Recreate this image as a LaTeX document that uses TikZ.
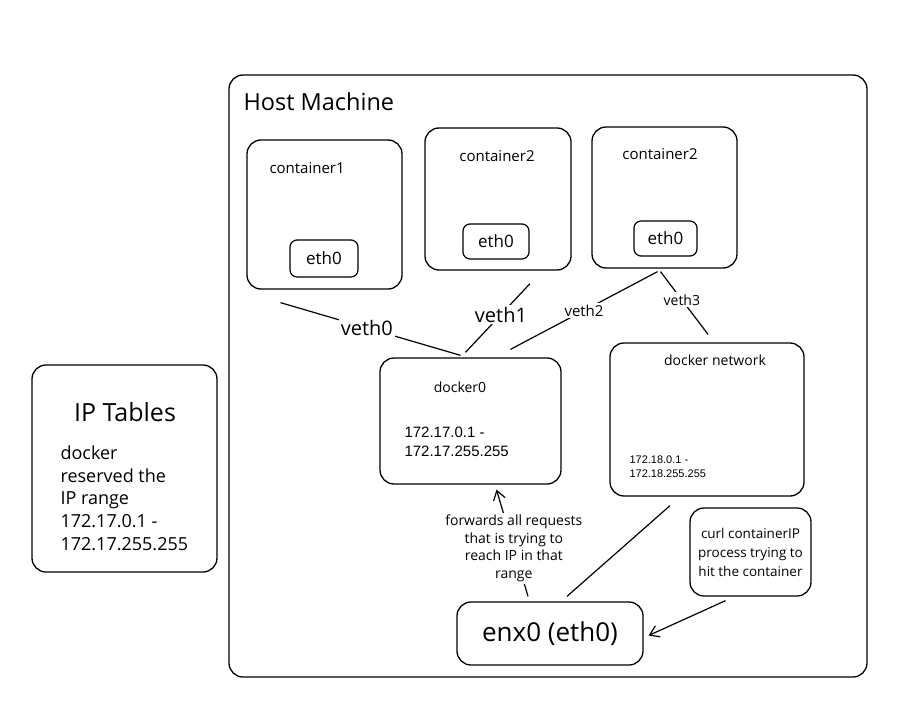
\documentclass[tikz,border=0pt]{standalone}
\usepackage{fontspec}
\setmainfont{Open Sans}
\newfontfamily\ipfont{Liberation Sans}
\usetikzlibrary{arrows.meta,calc}

\tikzset{
  box/.style={draw, line width=1.3pt, rounded corners=14pt, inner sep=0pt},
  smallbox/.style={draw, line width=1.2pt, rounded corners=7pt, inner sep=0pt},
  link/.style={line width=1.2pt},
  arr/.style={line width=1.2pt, -{Straight Barb[length=9pt,width=12pt]}},
  lbl/.style={fill=white, inner sep=2pt},
  fs/.style={font=\fontsize{#1}{#1}\selectfont}
}

\begin{document}
\begin{tikzpicture}[x=1pt, y=-1pt]
\useasboundingbox (0,0) rectangle (919,712);

% host
\node[box, minimum width=638pt, minimum height=602pt] (host) at (548,376) {};
\node[fs=23.5, anchor=west] (hostlbl) at (240,102) {Host Machine};

% containers
\node[box, minimum width=155pt, minimum height=149pt] (c1) at (324.5,214.5) {};
\node[fs=15, anchor=west] (c1lbl) at (266,168) {container1};
\node[smallbox, minimum width=68pt, minimum height=37pt, fs=17] (e1) at (324,258.5) {eth0};

\node[box, minimum width=146pt, minimum height=142pt] (c2) at (498,199) {};
\node[fs=15] (c2lbl) at (497,156) {container2};
\node[smallbox, minimum width=66pt, minimum height=35pt, fs=17] (e2) at (496,241.5) {eth0};

\node[box, minimum width=145pt, minimum height=141pt] (c3) at (664.5,197.5) {};
\node[fs=15] (c3lbl) at (660,154) {container2};
\node[smallbox, minimum width=63pt, minimum height=35pt, fs=17] (e3) at (665.5,238.5) {eth0};

% bridges
\node[box, minimum width=181pt, minimum height=126pt] (d0) at (470.5,421) {};
\node[fs=14] (d0lbl) at (460,387) {docker0};
\node[anchor=west, align=left, font=\ipfont\fontsize{15}{19}\selectfont] (d0ip) at (401,442) {172.17.0.1 -\\172.17.255.255};

\node[box, minimum width=194pt, minimum height=153pt] (dn) at (707,419.5) {};
\node[fs=14] (dnlbl) at (715,360) {docker network};
\node[anchor=west, align=left, font=\ipfont\fontsize{11}{14}\selectfont] (dnip) at (626,467) {172.18.0.1 -\\172.18.255.255};

% ip tables
\node[box, minimum width=185pt, minimum height=207pt] (ipt) at (124.5,468.5) {};
\node[fs=25] (iptlbl) at (125,412) {IP Tables};
\node[anchor=north west, align=left, font=\fontsize{18}{22.8}\selectfont] (ipttxt) at (57,442) {docker\\reserved the\\IP range\\172.17.0.1 -\\172.17.255.255};

% host interface and process
\node[box, minimum width=186pt, minimum height=63pt, fs=26] (enx) at (550,633.5) {enx0 (eth0)};
\node[box, minimum width=121pt, minimum height=88pt, align=center, font=\fontsize{13.5}{19}\selectfont] (curl) at (750.5,552) {curl containerIP\\process trying to\\hit the container};

% veth links
\draw[link] ([xshift=-44pt,yshift=-13pt]c1.south) -- node[lbl, fs=20, pos=0.48] (v0) {veth0} ([xshift=-10pt,yshift=2pt]d0.north);
\draw[link] ([xshift=32pt,yshift=-13pt]c2.south) -- node[lbl, fs=20, pos=0.45] (v1) {veth1} ([xshift=-5pt,yshift=5pt]d0.north);
\draw[link] ([xshift=-7pt,yshift=-3pt]c3.south) -- node[lbl, fs=15, pos=0.5] (v2) {veth2} ([xshift=40pt,yshift=8pt]d0.north);
\draw[link] ([xshift=-4pt,yshift=-3pt]c3.south) -- node[lbl, fs=14, pos=0.45] (v3) {veth3} ([xshift=1pt,yshift=8pt]dn.north);

% uplinks
\draw[arr] ([xshift=-22pt,yshift=5pt]enx.north) -- node[lbl, pos=0.45, align=center, font=\fontsize{14}{17.5}\selectfont] (fwd) {forwards all requests\\that is trying to\\reach IP in that\\range} ([xshift=26pt,yshift=-5pt]d0.south);
\draw[link] ([xshift=-37pt,yshift=-9pt]dn.south) -- ([xshift=17pt,yshift=5pt]enx.north);
\draw[arr] ([xshift=-25pt,yshift=-4pt]curl.south) -- ([xshift=5pt,yshift=-2pt]enx.east);
\end{tikzpicture}
\end{document}
